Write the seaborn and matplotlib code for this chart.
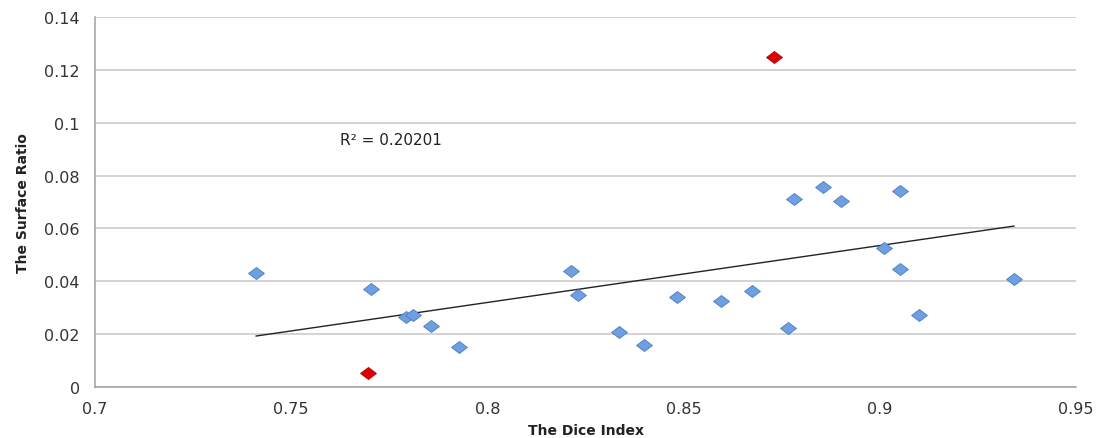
import numpy as np
import pandas as pd
import matplotlib
matplotlib.use("Agg")
import matplotlib.pyplot as plt
from matplotlib.path import Path
import seaborn as sns

# blue points
dice = [0.741, 0.7703, 0.7792, 0.781, 0.7855, 0.7927, 0.8212, 0.823, 0.8334,
        0.8398, 0.8482, 0.8596, 0.8675, 0.8767, 0.878, 0.8856, 0.8902, 0.9011,
        0.905, 0.905, 0.91, 0.9342]
surface = [0.0431, 0.0371, 0.0265, 0.0272, 0.0231, 0.0151, 0.0439, 0.0348, 0.0208,
           0.0159, 0.034, 0.0325, 0.0363, 0.0223, 0.0711, 0.0756, 0.0703, 0.0525,
           0.0741, 0.0446, 0.0272, 0.0408]

# red outliers
dice_out = [0.7695, 0.8729]
surface_out = [0.0053, 0.1248]

r2_label = "R\u00b2 = 0.20201"

df = pd.DataFrame({"dice": dice, "surface": surface})
df_out = pd.DataFrame({"dice": dice_out, "surface": surface_out})
df_all = pd.concat([df, df_out], ignore_index=True)

# flat diamond like the excel marker
flat_diamond = Path([(-1, 0), (0, 0.76), (1, 0), (0, -0.76), (-1, 0)],
                    [Path.MOVETO, Path.LINETO, Path.LINETO, Path.LINETO, Path.CLOSEPOLY])

sns.set_style("white")
fig = plt.figure(figsize=(10.97, 4.39), dpi=100)
ax = fig.add_axes([0.0866, 0.116, 0.8944, 0.843])

ax.yaxis.grid(True, color="#c8c8c8", linewidth=1.1)
ax.set_axisbelow(True)

# trend line over every point
sns.regplot(data=df_all, x="dice", y="surface", ci=None, truncate=True, ax=ax,
            scatter=False, line_kws=dict(color="#222222", linewidth=1.0, zorder=2))
sns.scatterplot(data=df, x="dice", y="surface", marker=flat_diamond, s=130,
                color="#6d9fe2", edgecolor="#4a7cc0", linewidth=0.6, ax=ax, zorder=3)
sns.scatterplot(data=df_out, x="dice", y="surface", marker=flat_diamond, s=130,
                color="#e00000", edgecolor="#a80000", linewidth=0.6, ax=ax, zorder=4)

ax.set_xlim(0.7, 0.95)
ax.set_ylim(0, 0.14)
ax.set_xticks([0.7, 0.75, 0.8, 0.85, 0.9, 0.95])
ax.set_xticklabels(["0.7", "0.75", "0.8", "0.85", "0.9", "0.95"])
ax.set_yticks([0, 0.02, 0.04, 0.06, 0.08, 0.1, 0.12, 0.14])
ax.set_yticklabels(["0", "0.02", "0.04", "0.06", "0.08", "0.1", "0.12", "0.14"])

for side in ["top", "right"]:
    ax.spines[side].set_visible(False)
for side in ["left", "bottom"]:
    ax.spines[side].set_color("#a0a0a0")
    ax.spines[side].set_linewidth(1.1)
ax.tick_params(axis="both", direction="out", length=5, color="#a0a0a0",
               labelsize=11.5, labelcolor="#333333")
ax.tick_params(axis="x", pad=5)
ax.tick_params(axis="y", pad=6)

ax.set_xlabel("The Dice Index", fontsize=10, fontweight="bold", color="#222222", labelpad=5)
ax.set_ylabel("The Surface Ratio", fontsize=10, fontweight="bold", color="#222222", labelpad=10)

ax.text(0.7624, 0.0938, r2_label, fontsize=11, color="#222222", va="center")

fig.savefig("out.png", dpi=100)
